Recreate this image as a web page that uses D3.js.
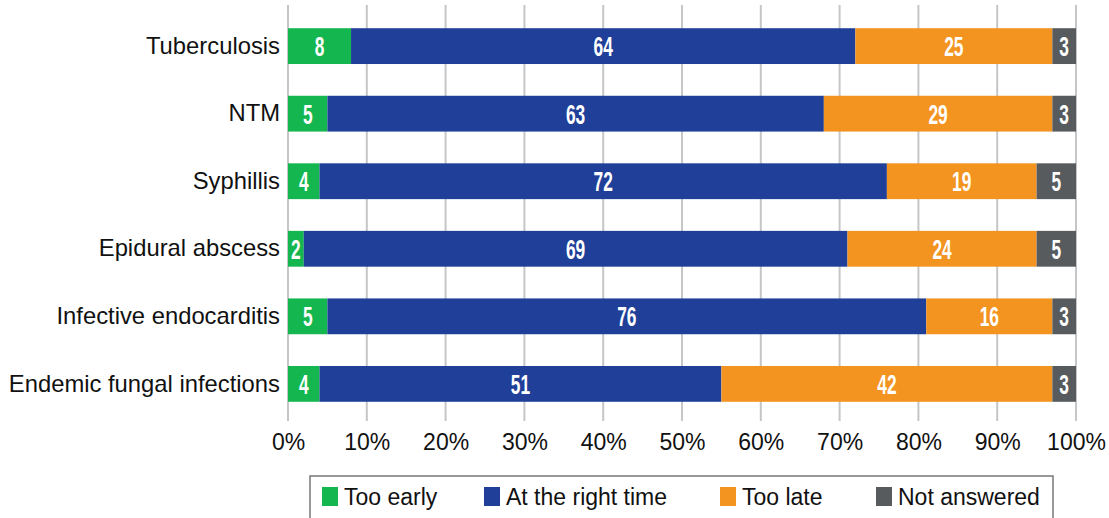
<!DOCTYPE html>
<html><head><meta charset="utf-8">
<script src="https://cdn.jsdelivr.net/npm/d3@7"></script>
<style>body{margin:0;background:#fff}svg{display:block}</style>
</head><body>
<svg id="c" width="1109" height="518"></svg>
<script>
const categories = ["Tuberculosis","NTM","Syphillis","Epidural abscess","Infective endocarditis","Endemic fungal infections"];
const seriesNames = ["Too early","At the right time","Too late","Not answered"];
const tooEarly = [8,5,4,2,5,4];
const rightTime = [64,63,72,69,76,51];
const tooLate = [25,29,19,24,16,42];
const notAnswered = [3,3,5,5,3,3];
const tickValues = [0,10,20,30,40,50,60,70,80,90,100];
const colors = ["#14b64f","#1f3f98","#f39420","#575b5d"];

const rows = categories.map((c,i)=>({cat:c,"Too early":tooEarly[i],"At the right time":rightTime[i],"Too late":tooLate[i],"Not answered":notAnswered[i]}));
const stack = d3.stack().keys(seriesNames)(rows);

const svg = d3.select("#c");
const x = d3.scaleLinear().domain([0,100]).range([288,1076]);
const y = d3.scaleBand().domain(categories).range([12,418]).paddingInner(0.47).paddingOuter(0.24);
const color = d3.scaleOrdinal().domain(seriesNames).range(colors);
const FONT = "Liberation Sans, Arial, sans-serif";

// gridlines
svg.append("g").selectAll("line").data(tickValues).join("line")
  .attr("x1",d=>x(d)).attr("x2",d=>x(d)).attr("y1",5).attr("y2",421)
  .attr("stroke","#c4c6c8").attr("stroke-width",2);

// tick labels
const xAxis = svg.append("g").attr("transform","translate(0,426)")
  .call(d3.axisBottom(x).tickValues(tickValues).tickFormat(d=>d+"%").tickSize(0).tickPadding(8));
xAxis.select(".domain").remove();
xAxis.selectAll("text").attr("font-family",FONT).attr("font-size",23).attr("fill","#111");

// bars
const g = svg.append("g");
stack.forEach(s=>{
  const key = s.key;
  const grp = g.append("g");
  grp.selectAll("rect").data(s).join("rect")
    .attr("x",d=>x(d[0])).attr("width",d=>x(d[1])-x(d[0]))
    .attr("y",d=>y(d.data.cat)).attr("height",y.bandwidth())
    .attr("fill",color(key));
  grp.selectAll("text").data(s).join("text")
    .attr("transform",d=>`translate(${(x(d[0])+x(d[1]))/2},${y(d.data.cat)+y.bandwidth()/2}) scale(0.62,1)`)
    .attr("dy","0.36em").attr("text-anchor","middle")
    .attr("font-family",FONT)
    .attr("font-weight","bold").attr("font-size",28).attr("fill","#fff")
    .text(d=>d.data[key]);
});

// category labels
const yAxis = svg.append("g").attr("transform","translate(280,0)")
  .call(d3.axisLeft(y).tickSize(0).tickPadding(0));
yAxis.select(".domain").remove();
yAxis.selectAll("text").attr("font-family",FONT).attr("font-size",23.8).attr("fill","#111");

// legend
svg.append("rect").attr("x",310).attr("y",476).attr("width",743).attr("height",50)
  .attr("fill","none").attr("stroke","#777").attr("stroke-width",1.5);
const legX = [322,484,720,876];
const leg = svg.append("g").selectAll("g").data(seriesNames).join("g")
  .attr("transform",(d,i)=>`translate(${legX[i]},487)`);
leg.append("rect").attr("width",16).attr("height",19).attr("fill",d=>color(d));
leg.append("text").attr("x",22).attr("y",10).attr("dy","0.36em")
  .attr("font-family",FONT).attr("font-size",23).attr("fill","#111")
  .text(d=>d);
</script>
</body></html>
